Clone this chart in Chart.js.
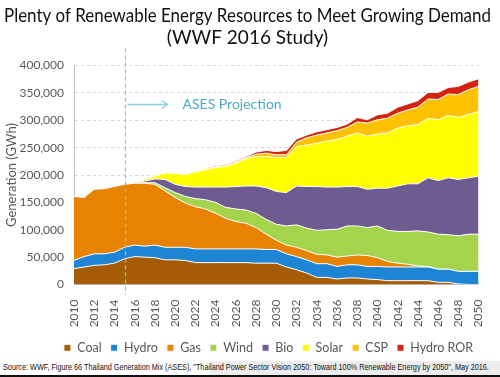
<!DOCTYPE html>
<html>
<head>
<meta charset="utf-8">
<script src="https://cdn.jsdelivr.net/npm/chart.js@4.4.1/dist/chart.umd.min.js"></script>
<style>
  html, body { margin: 0; padding: 0; background: #fff; }
  #wrap { position: relative; width: 500px; height: 377px; }
  #source {
    position: absolute; left: 0; top: 361px; width: 500px; height: 14px;
    background: linear-gradient(to right, #fff 0, #fff 210px, #ececec 210px);
    border-bottom: 2px solid #111;
  }
  #source span {
    position: absolute; left: 3px; top: 1px; white-space: nowrap;
    font-family: "Liberation Sans", Arial, sans-serif; font-size: 8.6px; color: #111;
    transform: scaleX(0.845); transform-origin: left top;
  }
</style>
</head>
<body>
<div id="wrap">
  <canvas id="genChart"></canvas>
  <div id="source"><span>Source: WWF, Figure 66 Thailand Generation Mix (ASES), "Thailand Power Sector Vision 2050: Toward 100% Renewable Energy by 2050", May 2016.</span></div>
</div>
<script>
const years = ['2010','2011','2012','2013','2014','2015','2016','2017','2018','2019','2020','2021','2022','2023','2024','2025','2026','2027','2028','2029','2030','2031','2032','2033','2034','2035','2036','2037','2038','2039','2040','2041','2042','2043','2044','2045','2046','2047','2048','2049','2050'];

// GWh per year
const coal = [29000,32000,35000,36000,39000,47000,51000,50000,49000,45000,45000,44000,40000,40000,40000,40000,40000,40000,39000,39000,39000,32000,27000,21000,13000,13000,10000,12000,12000,10000,9000,7000,7000,7000,7000,7000,4000,4000,1000,0,0];
const hydro = [15000,19000,21000,20000,20000,21000,21000,20000,23000,23000,23000,24000,25000,25000,25000,25000,25000,25000,26000,25000,25000,24000,24000,24000,25000,25000,23000,24000,24000,23000,24000,25000,25000,25000,25000,25000,24000,24000,23000,24000,24000];
const gas = [117000,108000,118000,119000,120000,115000,113000,115000,111000,103000,91000,81000,77000,73000,65000,56000,50000,47000,39000,28000,17000,16000,17000,17000,17000,16000,17000,16000,18000,20000,16000,10000,7000,5000,2000,1000,0,0,0,0,0];
const wind = [0,0,0,0,0,0,0,1000,3000,6000,9000,12000,15000,17000,20000,20000,23000,24000,26000,27000,29000,35000,41000,41000,44000,46000,51000,55000,53000,51000,58000,57000,58000,60000,64000,63000,64000,63000,65000,68000,68000];
const bio = [0,0,0,0,0,0,1000,3000,7000,15000,15000,18000,21000,23000,28000,37000,41000,44000,50000,58000,60000,61000,71000,76000,80000,78000,77000,72000,72000,70000,69000,77000,83000,87000,86000,99000,98000,104000,103000,103000,106000];
const solar = [0,0,0,0,0,0,0,3000,5000,12000,20000,22000,28000,32000,36000,38000,43000,50000,54000,57000,62000,64000,72000,76000,79000,84000,87000,92000,98000,97000,99000,101000,106000,106000,108000,109000,111000,114000,113000,116000,118000];
const csp = [0,0,0,0,0,0,0,0,0,0,0,0,500,1000,1000,1000,2000,2000,4000,6000,5000,5000,8000,13000,15000,15000,16000,16000,20000,24000,26000,27000,27000,29000,32000,35000,37000,39000,42000,45000,46000];
const hydroRor = [0,0,0,0,0,0,0,0,0,0,0,0,500,1000,2000,2000,2000,2000,4000,5000,6000,8000,6000,5000,6000,6000,6000,6000,8000,6000,9000,9000,11000,11000,12000,12000,13000,12000,15000,14000,14000];

const seriesNames = ['Coal','Hydro','Gas','Wind','Bio','Solar','CSP','Hydro ROR'];
const seriesData = [coal, hydro, gas, wind, bio, solar, csp, hydroRor];
const seriesColors = ['#A65C04','#1D85D3','#E88302','#A4D34C','#6E5B92','#FFFF00','#FFC200','#D42410'];

const projectionYear = '2015';
const projectionLabel = 'ASES Projection';
const labelValue = 330000;

const textGray = '#595959';
const font = 'Lato, sans-serif';

const projectionPlugin = {
  id: 'projection',
  afterLayout(chart) {
    // legend in the original sits a bit right of centre
    chart.legend.left += 21;
    chart.legend.right += 21;
  },
  afterDatasetsDraw(chart) {
    const { ctx, chartArea, scales } = chart;
    const x = Math.round(scales.x.getPixelForValue(years.indexOf(projectionYear))) + 0.5;
    const y = Math.round(scales.y.getPixelForValue(labelValue)) + 0.5;
    ctx.save();
    ctx.strokeStyle = '#7CC6DE';
    ctx.lineWidth = 1.2;
    ctx.setLineDash([4, 3]);
    ctx.beginPath();
    ctx.moveTo(x, chartArea.top - 17);
    ctx.lineTo(x, chartArea.bottom + 10);
    ctx.stroke();
    ctx.setLineDash([]);
    ctx.strokeStyle = '#8CCBE0';
    ctx.lineWidth = 1.5;
    ctx.beginPath();
    ctx.moveTo(x + 2, y);
    ctx.lineTo(x + 42, y);
    ctx.moveTo(x + 36, y - 4);
    ctx.lineTo(x + 42, y);
    ctx.lineTo(x + 36, y + 4);
    ctx.stroke();
    ctx.fillStyle = '#4BACC6';
    ctx.font = '14px ' + font;
    ctx.textBaseline = 'middle';
    ctx.fillText(projectionLabel, x + 57, y);
    ctx.restore();
  }
};

const ctx = document.getElementById('genChart').getContext('2d');
const genChart = new Chart(ctx, {
  type: 'line',
  data: {
    labels: years,
    datasets: seriesNames.map((name, i) => ({
      label: name,
      data: seriesData[i],
      backgroundColor: seriesColors[i],
      borderColor: '#ffffff',
      borderWidth: 1,
      pointRadius: 0,
      fill: 'stack',
      tension: 0
    }))
  },
  options: {
    responsive: true,
    maintainAspectRatio: false,
    animation: false,
    layout: { padding: { left: 4, right: 9, top: 2, bottom: 13 } },
    plugins: {
      title: {
        display: true,
        text: ['Plenty of Renewable Energy Resources to Meet Growing Demand', '(WWF 2016 Study)'],
        color: '#111111',
        font: { family: font, size: 19, weight: 'normal', lineHeight: 1.2 },
        padding: { top: 2, bottom: 16 }
      },
      legend: {
        position: 'bottom',
        labels: {
          color: textGray,
          boxWidth: 7,
          boxHeight: 7,
          padding: 9,
          font: { family: font, size: 12.5 }
        }
      },
      tooltip: { enabled: false }
    },
    scales: {
      x: {
        offset: false,
        grid: { display: false },
        border: { display: true, color: '#bfbfbf' },
        afterFit: (scale) => { scale.height = 48; },
        ticks: {
          autoSkip: false,
          maxRotation: 90,
          minRotation: 90,
          padding: 7,
          color: textGray,
          font: { family: font, size: 12 },
          callback: function (value, index) {
            return index % 2 === 0 ? years[index] : '';
          }
        }
      },
      y: {
        stacked: true,
        min: 0,
        max: 400000,
        afterFit: (scale) => { scale.width = 70; },
        grid: { color: '#d9d9d9', drawTicks: false },
        border: { display: true, color: '#bfbfbf', dash: [3, 3] },
        ticks: {
          stepSize: 50000,
          padding: 10,
          color: textGray,
          font: { family: font, size: 12 }
        },
        title: {
          display: true,
          text: 'Generation (GWh)',
          color: textGray,
          font: { family: font, size: 13 },
          padding: { top: 0, bottom: 0 }
        }
      }
    }
  },
  plugins: [projectionPlugin]
});
</script>
</body>
</html>
